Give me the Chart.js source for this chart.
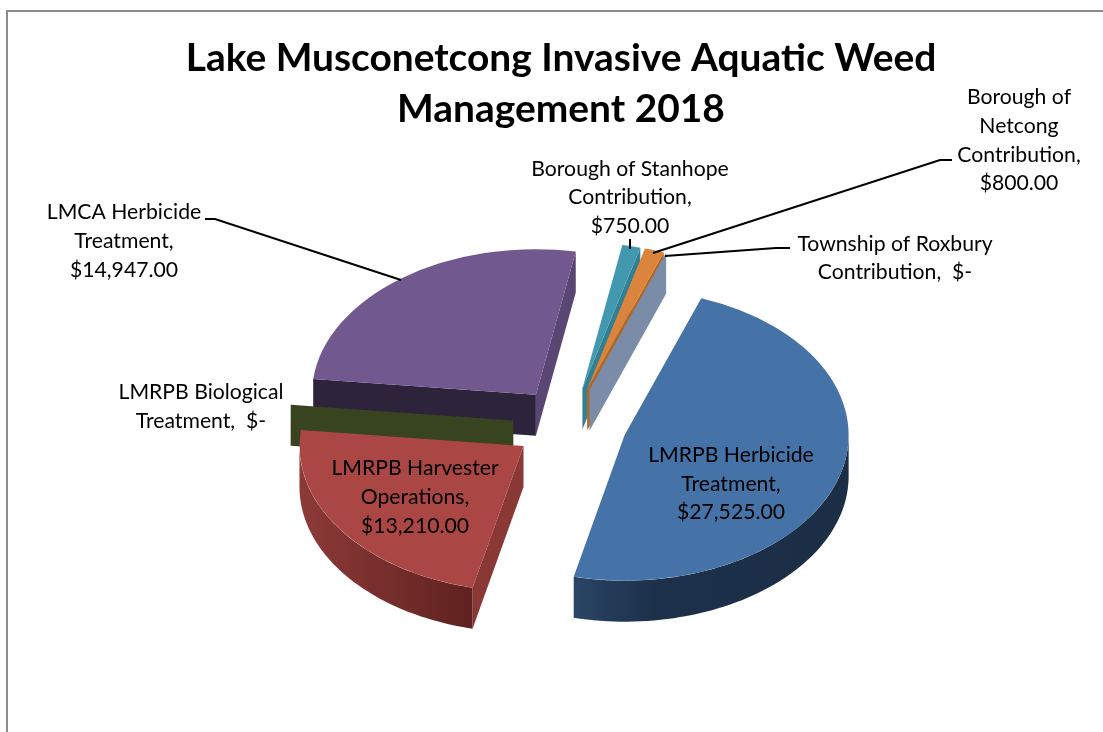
<!DOCTYPE html>
<html>
<head>
<meta charset="utf-8">
<style>
  html, body { margin: 0; padding: 0; background: #fff; overflow: hidden; }
  #wrap { position: relative; width: 1103px; height: 732px; }
  #frame { position: absolute; left: 6px; top: 10px; right: -4px; bottom: -4px; border: 2px solid #8c8c8c; }
  canvas { position: absolute; left: 0; top: 0; }
</style>
<script src="https://cdn.jsdelivr.net/npm/chart.js@4/dist/chart.umd.min.js"></script>
</head>
<body>
<div id="wrap">
  <div id="frame"></div>
  <canvas id="pie" width="1103" height="732"></canvas>
</div>
<script>
const titleLines = ['Lake Musconetcong Invasive Aquatic Weed', 'Management 2018'];
const categories = [
  'LMRPB Herbicide Treatment',
  'LMRPB Harvester Operations',
  'LMRPB Biological Treatment',
  'LMCA Herbicide Treatment',
  'Borough of Stanhope Contribution',
  'Borough of Netcong Contribution',
  'Township of Roxbury Contribution'
];
const values = [27525, 13210, 0, 14947, 750, 800, 0];
const valueLabels = ['$27,525.00', '$13,210.00', '$-', '$14,947.00', '$750.00', '$800.00', '$-'];

const topColors = ['#4572a7', '#aa4643', '#89a54e', '#71588f', '#4198af', '#db843d', '#93a9cf'];
const startWallColors = ['#1c3049', '#8a3836', '#38431f', '#2d233a', '#327f93', '#b4651f', '#7b8ca8'];
const endWallColors = ['#1c3049', '#8a3836', '#38431f', '#5a4672', '#327f93', '#b4651f', '#7b8ca8'];

// geometry of the fake 3d view
const tilt = 0.65;
const depth = 41;
const explode = 57;
const fullRadius = 224;
// back slices first so the front ones cover them
const drawOrder = [3, 4, 5, 6, 2, 1, 0];

// how each label is set out: centre x, y of each line, and the leader line if it has one
const labelLayout = [
  { x: 731, y: [455, 484, 512], lines: ['LMRPB Herbicide', 'Treatment,', '{v}'] },
  { x: 415, y: [468, 497, 526], lines: ['LMRPB Harvester', 'Operations,', '{v}'] },
  { x: 201, y: [392, 421], lines: ['LMRPB Biological', 'Treatment,  {v}'] },
  { x: 124, y: [212, 241, 270], lines: ['LMCA Herbicide', 'Treatment,', '{v}'], leader: [[205, 219], [215, 219], [401, 280]] },
  { x: 630, y: [169, 197, 226], lines: ['Borough of Stanhope', 'Contribution,', '{v}'], leader: [[630, 239], [630, 249]] },
  { x: 1019, y: [97, 126, 155, 183], lines: ['Borough of', 'Netcong', 'Contribution,', '{v}'], leader: [[952, 160], [940, 160], [653, 253]] },
  { x: 895, y: [244, 272], lines: ['Township of Roxbury', 'Contribution,  {v}'], leader: [[790, 248], [776, 248], [665, 256]] }
];

function fillPoly(ctx, pts) {
  ctx.beginPath();
  pts.forEach((p, i) => i ? ctx.lineTo(p[0], p[1]) : ctx.moveTo(p[0], p[1]));
  ctx.closePath();
  ctx.fill();
}

const pie3d = {
  id: 'pie3d',
  afterLayout(chart) {
    // title sits a little left of the pie centre
    chart.titleBlock.left -= 18;
  },
  beforeDatasetsDraw(chart) {
    const ctx = chart.ctx;
    const arcs = chart.getDatasetMeta(0).data;
    const cx = arcs[0].x, cy = arcs[0].y;
    const down = (p) => [p[0], p[1] + depth];

    drawOrder.forEach((i) => {
      const arc = arcs[i];
      const a0 = arc.startAngle, a1 = arc.endAngle;
      const mid = (a0 + a1) / 2;
      const ox = Math.cos(mid) * explode, oy = Math.sin(mid) * explode;
      const pt = (a, r) => [cx + ox + Math.cos(a) * r, cy + (oy + Math.sin(a) * r) * tilt];
      const tip = pt(0, 0);
      const e0 = pt(a0, arc.outerRadius), e1 = pt(a1, arc.outerRadius);

      // flat walls, only the ones that face the viewer
      if (-Math.cos(a0) > 0) {
        ctx.fillStyle = startWallColors[i];
        fillPoly(ctx, [tip, e0, down(e0), down(tip)]);
      }
      if (Math.cos(a1) > 0) {
        ctx.fillStyle = endWallColors[i];
        fillPoly(ctx, [tip, e1, down(e1), down(tip)]);
      }

      // curved outer wall, front half of the circle only
      const lo = Math.max(a0, 0), hi = Math.min(a1, Math.PI);
      if (hi > lo) {
        const g = ctx.createLinearGradient(pt(hi, arc.outerRadius)[0], 0, pt(lo, arc.outerRadius)[0], 0);
        if (i === 0) {
          g.addColorStop(0, '#2a4566');
          g.addColorStop(0.3, '#1c3049');
          g.addColorStop(1, '#1c2e46');
        } else {
          g.addColorStop(0, '#8c3a37');
          g.addColorStop(1, '#5f2220');
        }
        ctx.fillStyle = g;
        const rim = [];
        for (let s = 0; s <= 60; s++) rim.push(pt(lo + (hi - lo) * s / 60, arc.outerRadius));
        fillPoly(ctx, rim.concat(rim.map(down).reverse()));
      }

      // top face: the library's own arc, squashed and pulled out
      ctx.save();
      ctx.translate(cx, cy);
      ctx.scale(1, tilt);
      ctx.translate(ox - cx, oy - cy);
      arc.draw(ctx);
      ctx.restore();
    });
    return false;
  },
  afterDraw(chart) {
    const ctx = chart.ctx;
    ctx.save();
    ctx.strokeStyle = '#000';
    ctx.lineWidth = 2;
    ctx.fillStyle = '#000';
    ctx.font = '21.2px Lato';
    ctx.textAlign = 'center';
    ctx.textBaseline = 'middle';
    labelLayout.forEach((lab, i) => {
      lab.lines.forEach((ln, j) => {
        ctx.fillText(ln.replace('{v}', valueLabels[i]), lab.x, lab.y[j]);
      });
      if (lab.leader) {
        ctx.beginPath();
        lab.leader.forEach((p, k) => k ? ctx.lineTo(p[0], p[1]) : ctx.moveTo(p[0], p[1]));
        ctx.stroke();
      }
    });
    ctx.restore();
  }
};

new Chart(document.getElementById('pie'), {
  type: 'pie',
  data: {
    labels: categories,
    datasets: [{
      data: values,
      backgroundColor: topColors,
      borderWidth: 0
    }]
  },
  options: {
    responsive: false,
    animation: false,
    rotation: 20,
    radius: fullRadius,
    events: [],
    layout: { padding: { left: 37, top: 13, right: 0, bottom: 18 } },
    plugins: {
      legend: { display: false },
      tooltip: { enabled: false },
      title: {
        display: true,
        text: titleLines,
        color: '#000',
        font: { family: 'Lato', size: 38.9, weight: 'bold', lineHeight: 51 / 38.9 },
        padding: { top: 20, bottom: 0 }
      }
    }
  },
  plugins: [pie3d]
});
</script>
</body>
</html>
